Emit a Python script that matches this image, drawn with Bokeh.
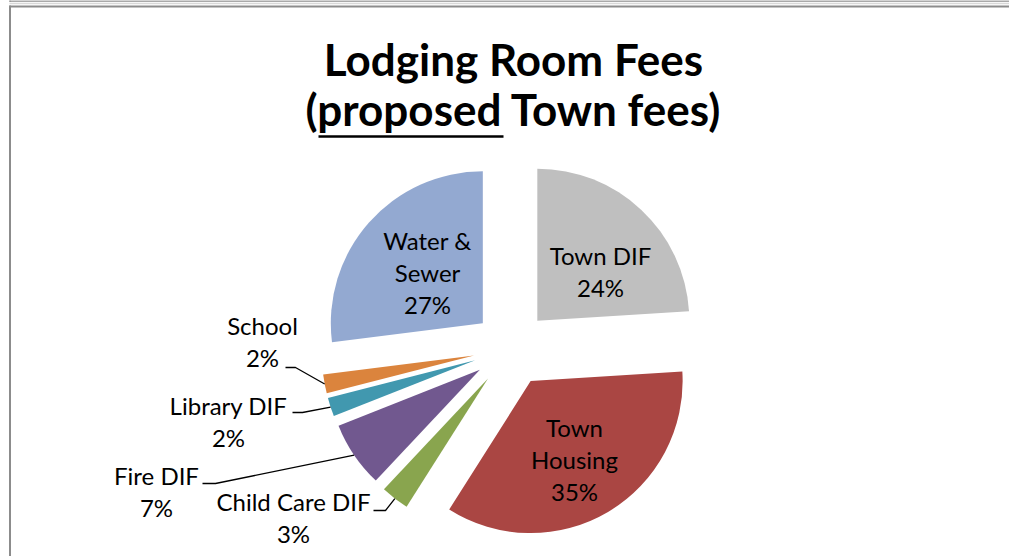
import numpy as np
from bokeh.plotting import figure
from bokeh.models import Range1d
from bokeh.embed import file_html
from bokeh.resources import INLINE
from bokeh.core.properties import value

# ---------------- data ----------------
categories = ["Town DIF", "Town Housing", "Child Care DIF", "Fire DIF",
              "Library DIF", "School", "Water & Sewer"]
percents = [24, 35, 3, 7, 2, 2, 27]
colors = ["#BFBFBF", "#AA4643", "#89A54E", "#71588F", "#4198AF", "#DB843D", "#93A9D1"]
label_names = ["Town DIF", "Town\nHousing", "Child Care DIF", "Fire DIF",
               "Library DIF", "School", "Water &\nSewer"]
title_line1 = "Lodging Room Fees"
title_line2 = "(proposed Town fees)"

# ---------------- layout ----------------
W, H = 1009, 556
CX, CY = 510.8, 347.9     # pie centre (screen px)
R = 152                   # radius
EXPLODE = 38              # explosion distance
FONT = "Lato"
LABEL_SIZE = 24
TITLE_SIZE = 44
BASE_FIX = 0.34           # baseline compensation (em)
LINE_GAP = 32.3
# label anchor: centre x, first baseline y (screen px), and leader start (x0, y, x1)
label_pos = {
    "Town DIF": (600, 263, None),
    "Town Housing": (574, 435, None),
    "Child Care DIF": (293, 509, (373, 510, 385)),
    "Fire DIF": (156, 483, (202, 483, 215)),
    "Library DIF": (228, 413, (292, 412, 302)),
    "School": (262, 333, (285, 367, 295)),
    "Water & Sewer": (427, 248, None),
}

def sy(y):  # screen y -> data y
    return -y

p = figure(width=W, height=H, output_backend="svg", toolbar_location=None,
           x_range=Range1d(0, W), y_range=Range1d(-H, 0),
           x_axis_type=None, y_axis_type=None, min_border=0,
           margin=(0, 0, 0, 0))
p.grid.visible = False
p.outline_line_color = None
p.background_fill_color = "white"
p.border_fill_color = "white"

# frame lines
p.segment(x0=[9, 9, 9.5, 9.5], y0=[sy(0.5), sy(6), sy(0), sy(5)],
          x1=[W, W, 9.5, 9.5], y1=[sy(0.5), sy(6), sy(1), sy(H)],
          line_color="#8C8C8C", line_width=[1.5, 2, 2, 2])
p.segment(x0=[9], y0=[sy(3)], x1=[W], y1=[sy(3)], line_color="#D9D9D9", line_width=1.5)

# slices
vals = np.array(percents, dtype=float)
cum = np.concatenate([[0], np.cumsum(vals)]) / vals.sum() * 360.0
a1, a2 = cum[:-1], cum[1:]
bis = np.radians((a1 + a2) / 2)
apx = CX + EXPLODE * np.sin(bis)
apy = CY - EXPLODE * np.cos(bis)
p.wedge(x=apx, y=sy(apy), radius=R,
        start_angle=np.radians(90 - a2), end_angle=np.radians(90 - a1),
        direction="anticlock", fill_color=colors, line_color=None)

# labels
lfix = BASE_FIX * LABEL_SIZE
for i, cat in enumerate(categories):
    lx, ly, leader = label_pos[cat]
    lines = label_names[i].split("\n") + [f"{percents[i]}%"]
    ys = [sy(ly - lfix + k * LINE_GAP) for k in range(len(lines))]
    p.text(x=[lx] * len(lines), y=ys, text=lines, text_font=value(FONT),
           text_font_size=f"{LABEL_SIZE}px", text_align="center",
           text_baseline="alphabetic", text_color="black")
    if leader is not None:
        sx0, syy, sx1 = leader
        ex = apx[i] + R * np.sin(bis[i])
        ey = apy[i] - R * np.cos(bis[i])
        p.line(x=[sx0, sx1, ex], y=[sy(syy), sy(syy), sy(ey)],
               line_color="black", line_width=1.3)

# title
tfix = BASE_FIX * TITLE_SIZE
p.text(x=[513, 513], y=[sy(73 - tfix), sy(123 - tfix)], text=[title_line1, title_line2],
       text_font=value(FONT), text_font_style="bold", text_font_size=f"{TITLE_SIZE}px",
       text_align="center", text_baseline="alphabetic", text_color="black")
p.segment(x0=[318], y0=[sy(136)], x1=[503], y1=[sy(136)], line_color="black", line_width=2.5)

open("out.html", "w").write(file_html(p, INLINE))
